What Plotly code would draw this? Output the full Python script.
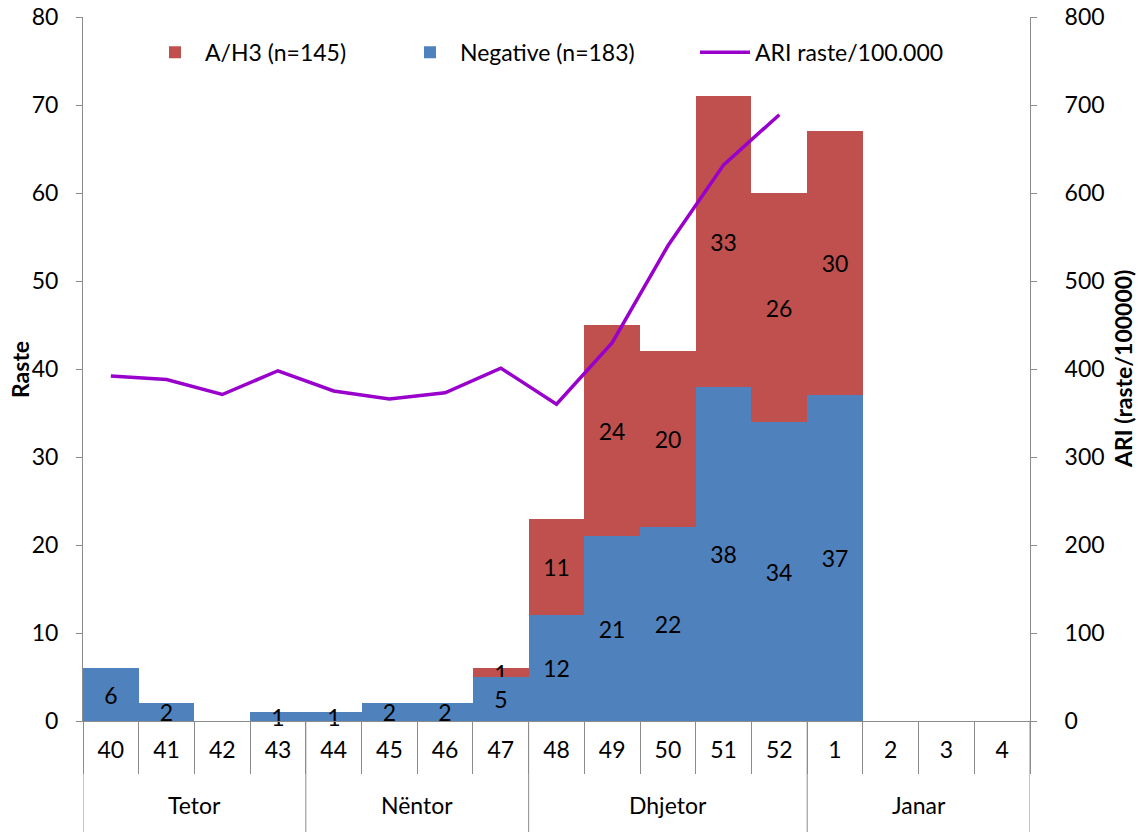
import plotly.graph_objects as go

months = ["Tetor"] * 4 + ["Nëntor"] * 4 + ["Dhjetor"] * 5 + ["Janar"] * 4
weeks = ["40", "41", "42", "43", "44", "45", "46", "47", "48", "49", "50", "51", "52", "1", "2", "3", "4"]
negative = [6, 2, 0, 1, 1, 2, 2, 5, 12, 21, 22, 38, 34, 37, 0, 0, 0]
ah3 = [0, 0, 0, 0, 0, 0, 0, 1, 11, 24, 20, 33, 26, 30, 0, 0, 0]
ari = [392, 388, 371, 398, 375, 366, 373, 401, 360, 430, 540, 632, 689, None, None, None, None]

FONT = "Lato, Carlito, Calibri, sans-serif"
FS = 23
AX = "#8c8c8c"

W, H = 1139, 832
ML, MR, MT, MB = 83, 109, 17, 111
plot_w = W - ML - MR
plot_h = H - MT - MB

fig = go.Figure()
fig.add_trace(go.Bar(
    x=weeks, y=ah3, name="A/H3 (n=145)", marker=dict(color="#C0504D", line=dict(width=0)),
    text=[str(v) if v else "" for v in ah3], textposition="inside", insidetextanchor="middle",
    textangle=0, textfont=dict(color="black", size=FS, family=FONT), constraintext="none",
    legend="legend", cliponaxis=False, offsetgroup="s", base=negative, showlegend=True,
))
fig.add_trace(go.Bar(
    x=weeks, y=negative, name="Negative (n=183)", marker=dict(color="#4F81BD", line=dict(width=0)),
    text=[str(v) if v else "" for v in negative], textposition="inside", insidetextanchor="middle",
    textangle=0, textfont=dict(color="black", size=FS, family=FONT), constraintext="none",
    legend="legend2", cliponaxis=False, offsetgroup="s", showlegend=True,
))
fig.add_trace(go.Scatter(
    x=weeks, y=ari, name="ARI raste/100.000", mode="lines", yaxis="y2",
    line=dict(color="#9900CC", width=3.5), legend="legend3", showlegend=True,
))

# month group labels and dividers, derived from the months list
groups = []
for i, m in enumerate(months):
    if not groups or groups[-1][0] != m:
        groups.append([m, i, i])
    else:
        groups[-1][2] = i

annotations = []
shapes = []
bottom = -MB / plot_h
for m, a, b in groups:
    annotations.append(dict(
        x=(a + b) / 2, y=-84 / plot_h, xref="x", yref="paper", text=m, showarrow=False,
        font=dict(size=FS, family=FONT, color="black"), xanchor="center", yanchor="middle",
    ))
    shapes.append(dict(type="line", xref="x", yref="paper", x0=a - 0.5, x1=a - 0.5,
                       y0=0, y1=bottom, line=dict(color=AX, width=1)))
shapes.append(dict(type="line", xref="x", yref="paper", x0=len(weeks) - 0.5, x1=len(weeks) - 0.5,
                   y0=0, y1=bottom, line=dict(color=AX, width=1)))

# axis titles
annotations.append(dict(x=-63 / plot_w, y=0.5, xref="paper", yref="paper", text="<b>Raste</b>",
                        textangle=-90, showarrow=False, font=dict(size=23, family=FONT, color="black"),
                        xanchor="center", yanchor="middle"))
annotations.append(dict(x=1 + 93 / plot_w, y=0.5, xref="paper", yref="paper",
                        text="<b>ARI (raste/100000)</b>", textangle=-90, showarrow=False,
                        font=dict(size=23, family=FONT, color="black"),
                        xanchor="center", yanchor="middle"))


def leg(text_px):
    return dict(orientation="h", x=(text_px - 60 - ML) / plot_w, y=0.95, xanchor="left",
                yanchor="middle", font=dict(size=FS), bgcolor="rgba(0,0,0,0)", itemwidth=50,
                visible=True)


fig.update_layout(
    width=W, height=H,
    margin=dict(l=ML, r=MR, t=MT, b=MB, autoexpand=False),
    plot_bgcolor="white", paper_bgcolor="white",
    barmode="overlay", bargap=0, showlegend=True,
    font=dict(family=FONT, size=FS, color="black"),
    uniformtext=dict(minsize=FS, mode="show"),
    legend=leg(205),
    legend2=leg(460),
    legend3=leg(755),
    annotations=annotations,
    shapes=shapes,
    xaxis=dict(
        type="category", showline=True, linecolor=AX, linewidth=1,
        ticks="outside", ticklen=52, tickcolor=AX, tickson="boundaries",
        ticklabelstandoff=8, tickfont=dict(size=FS), showgrid=False, automargin=False,
        range=[-0.5, len(weeks) - 0.5],
    ),
    yaxis=dict(
        range=[0, 80], dtick=10, showline=True, linecolor=AX, ticks="outside",
        ticklen=6, tickcolor=AX, showgrid=False, zeroline=False, automargin=False,
        ticklabelstandoff=13, tickfont=dict(size=FS),
    ),
    yaxis2=dict(
        range=[0, 800], dtick=100, overlaying="y", side="right", showline=True,
        linecolor=AX, ticks="outside", ticklen=6, tickcolor=AX, automargin=False,
        showgrid=False, zeroline=False, ticklabelstandoff=23, tickfont=dict(size=FS),
    ),
)

fig.write_html("out.html", config={"displayModeBar": False},
               post_script="document.body.style.margin='0';")
